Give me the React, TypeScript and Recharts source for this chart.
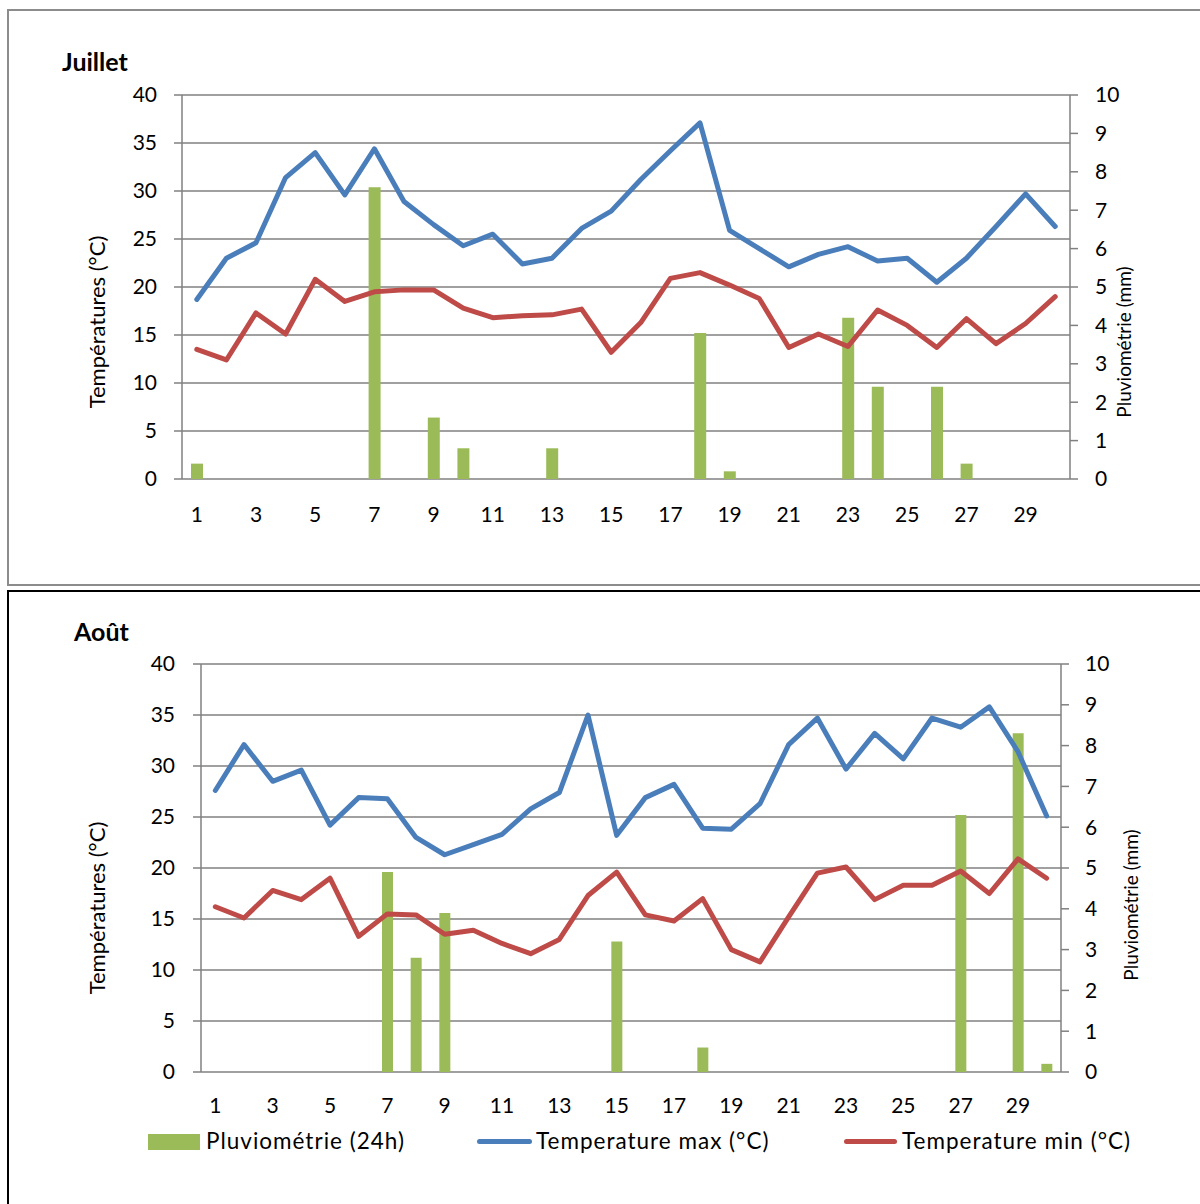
import { Bar, CartesianGrid, ComposedChart, Line, XAxis, YAxis } from "recharts"

const DAYS = [1, 2, 3, 4, 5, 6, 7, 8, 9, 10, 11, 12, 13, 14, 15, 16, 17, 18, 19, 20, 21, 22, 23, 24, 25, 26, 27, 28, 29, 30]
const BOUNDS = [0, ...DAYS]
const TEMP_TICKS = [0, 5, 10, 15, 20, 25, 30, 35, 40]
const RAIN_TICKS = [0, 1, 2, 3, 4, 5, 6, 7, 8, 9, 10]

// Juillet
const JUL_MAX = [18.7, 23.0, 24.6, 31.4, 34.0, 29.6, 34.4, 28.9, 26.5, 24.3, 25.5, 22.4, 23.0, 26.1, 27.9, 31.2, 34.2, 37.1, 25.9, 24.0, 22.1, 23.4, 24.2, 22.7, 23.0, 20.5, 23.0, 26.3, 29.7, 26.3]
const JUL_MIN = [13.5, 12.4, 17.3, 15.1, 20.8, 18.5, 19.5, 19.7, 19.7, 17.8, 16.8, 17.0, 17.1, 17.7, 13.2, 16.3, 20.9, 21.5, 20.2, 18.8, 13.7, 15.1, 13.8, 17.6, 16.0, 13.7, 16.7, 14.1, 16.2, 19.0]
const JUL_RAIN = [0.4, 0, 0, 0, 0, 0, 7.6, 0, 1.6, 0.8, 0, 0, 0.8, 0, 0, 0, 0, 3.8, 0.2, 0, 0, 0, 4.2, 2.4, 0, 2.4, 0.4, 0, 0, 0]

// Août
const AUG_MAX = [27.6, 32.1, 28.5, 29.6, 24.2, 26.9, 26.8, 23.0, 21.3, 22.3, 23.3, 25.8, 27.4, 35.0, 23.2, 26.9, 28.2, 23.9, 23.8, 26.3, 32.1, 34.7, 29.7, 33.2, 30.7, 34.7, 33.8, 35.8, 31.4, 25.1]
const AUG_MIN = [16.2, 15.1, 17.8, 16.9, 19.0, 13.3, 15.5, 15.4, 13.5, 13.9, 12.6, 11.6, 13.0, 17.3, 19.6, 15.4, 14.8, 17.0, 12.0, 10.8, 15.2, 19.5, 20.1, 16.9, 18.3, 18.3, 19.7, 17.5, 20.9, 19.0]
const AUG_RAIN = [0, 0, 0, 0, 0, 0, 4.9, 2.8, 3.9, 0, 0, 0, 0, 0, 3.2, 0, 0, 0.6, 0, 0, 0, 0, 0, 0, 0, 0, 6.3, 0, 8.3, 0.2]

const RAIN_NAME = "Pluviométrie (24h)"
const MAX_NAME = "Temperature max (°C)"
const MIN_NAME = "Temperature min (°C)"

const GREEN = "#9BBB59"
const BLUE = "#4A7EBB"
const RED = "#BE4B48"
const GRID = "#808080"
const FONT = "Lato, 'Open Sans', sans-serif"
const TICK = { fill: "#000", fontSize: 21, fontFamily: FONT }

// rotated axis title at a fixed spot of the chart surface
const axisTitle = (text: string, cx: number, cy: number, size: number) => () => (
  <text
    x={cx}
    y={cy}
    transform={`rotate(-90 ${cx} ${cy})`}
    textAnchor="middle"
    dominantBaseline="central"
    fontSize={size}
    fontFamily={FONT}
    fill="#000"
  >
    {text}
  </text>
)

type Cfg = {
  top: number
  height: number
  margin: { top: number; right: number; bottom: number; left: number }
  leftWidth: number
  rightWidth: number
  leftTitle: [number, number]
  rightTitle: [number, number]
  xMargin: number
  lMargin: number
  rMargin: number
  barSize: number
}

function MonthChart({ maxT, minT, rain, cfg }: { maxT: number[]; minT: number[]; rain: number[]; cfg: Cfg }) {
  const data = DAYS.map((d, i) => ({ day: d, rain: rain[i], tmax: maxT[i], tmin: minT[i] }))
  return (
    <div style={{ position: "absolute", left: 0, top: cfg.top }}>
      <ComposedChart width={1200} height={cfg.height} data={data} margin={cfg.margin}>
        <CartesianGrid xAxisId="days" yAxisId="left" vertical={false} stroke={GRID} strokeWidth={1.5} />
        <XAxis
          xAxisId="ticks"
          type="number"
          domain={[0, 30]}
          ticks={BOUNDS}
          allowDataOverflow
          height={0}
          tickSize={8}
          tickFormatter={() => ""}
          tickLine={{ stroke: GRID, strokeWidth: 1.5 }}
          axisLine={{ stroke: GRID, strokeWidth: 1.5 }}
        />
        <XAxis
          xAxisId="days"
          dataKey="day"
          interval={1}
          height={30}
          tickSize={8}
          tickMargin={cfg.xMargin}
          tickLine={false}
          axisLine={false}
          tick={TICK}
        />
        <YAxis
          yAxisId="left"
          domain={[0, 40]}
          ticks={TEMP_TICKS}
          width={cfg.leftWidth}
          tickSize={8}
          tickMargin={cfg.lMargin}
          tick={TICK}
          tickLine={{ stroke: GRID, strokeWidth: 1.5 }}
          axisLine={{ stroke: GRID, strokeWidth: 1.5 }}
          label={{ content: axisTitle("Températures (°C)", cfg.leftTitle[0], cfg.leftTitle[1], 22) }}
        />
        <YAxis
          yAxisId="right"
          orientation="right"
          domain={[0, 10]}
          ticks={RAIN_TICKS}
          width={cfg.rightWidth}
          tickSize={8}
          tickMargin={cfg.rMargin}
          tick={{ ...TICK, textAnchor: "start" }}
          tickLine={{ stroke: GRID, strokeWidth: 1.5 }}
          axisLine={{ stroke: GRID, strokeWidth: 1.5 }}
          label={{ content: axisTitle("Pluviométrie (mm)", cfg.rightTitle[0], cfg.rightTitle[1], 19) }}
        />
        <Bar xAxisId="days" yAxisId="right" dataKey="rain" name={RAIN_NAME} fill={GREEN} barSize={cfg.barSize} isAnimationActive={false} />
        <Line xAxisId="days" yAxisId="left" dataKey="tmax" name={MAX_NAME} stroke={BLUE} strokeWidth={5} dot={false} strokeLinejoin="round" strokeLinecap="round" isAnimationActive={false} />
        <Line xAxisId="days" yAxisId="left" dataKey="tmin" name={MIN_NAME} stroke={RED} strokeWidth={5} dot={false} strokeLinejoin="round" strokeLinecap="round" isAnimationActive={false} />
      </ComposedChart>
    </div>
  )
}

const JUL_CFG: Cfg = {
  top: 0,
  height: 585,
  margin: { top: 95, right: 20, bottom: 76, left: 0 },
  leftWidth: 182,
  rightWidth: 110,
  leftTitle: [96, 322],
  rightTitle: [1123, 342],
  xMargin: 20,
  lMargin: 17,
  rMargin: 17,
  barSize: 12,
}

const AUG_CFG: Cfg = {
  top: 590,
  height: 614,
  margin: { top: 74, right: 29, bottom: 102, left: 0 },
  leftWidth: 201,
  rightWidth: 110,
  leftTitle: [96, 318],
  rightTitle: [1130, 315],
  xMargin: 18,
  lMargin: 18,
  rMargin: 16,
  barSize: 11,
}

const titleStyle = { position: "absolute" as const, fontFamily: FONT, fontWeight: 700, fontSize: 25, lineHeight: "25px", color: "#000" }
const legendText = {
  position: "absolute" as const,
  top: 1129,
  fontFamily: FONT,
  fontSize: 22.5,
  letterSpacing: 1,
  lineHeight: "23px",
  color: "#000",
  whiteSpace: "nowrap" as const,
}

export default function App() {
  return (
    <div style={{ position: "fixed", left: 0, top: 0, width: 1200, height: 1204, overflow: "hidden", background: "#fff" }}>
      <div style={{ position: "absolute", left: 7, top: 9, width: 1220, height: 577, border: "2px solid #8c8c8c", boxSizing: "border-box" }} />
      <div style={{ position: "absolute", left: 7, top: 590, width: 1220, height: 700, border: "2px solid #000", boxSizing: "border-box" }} />
      <MonthChart maxT={JUL_MAX} minT={JUL_MIN} rain={JUL_RAIN} cfg={JUL_CFG} />
      <MonthChart maxT={AUG_MAX} minT={AUG_MIN} rain={AUG_RAIN} cfg={AUG_CFG} />
      <div style={{ ...titleStyle, left: 62, top: 49 }}>Juillet</div>
      <div style={{ ...titleStyle, left: 74, top: 619 }}>Août</div>
      {/* legend, bottom chart only */}
      <div style={{ position: "absolute", left: 148, top: 1134, width: 52, height: 16, background: GREEN }} />
      <div style={{ ...legendText, left: 206 }}>{RAIN_NAME}</div>
      <div style={{ position: "absolute", left: 477, top: 1139, width: 55, height: 5, borderRadius: 3, background: BLUE }} />
      <div style={{ ...legendText, left: 536 }}>{MAX_NAME}</div>
      <div style={{ position: "absolute", left: 844, top: 1139, width: 53, height: 5, borderRadius: 3, background: RED }} />
      <div style={{ ...legendText, left: 902 }}>{MIN_NAME}</div>
    </div>
  )
}
